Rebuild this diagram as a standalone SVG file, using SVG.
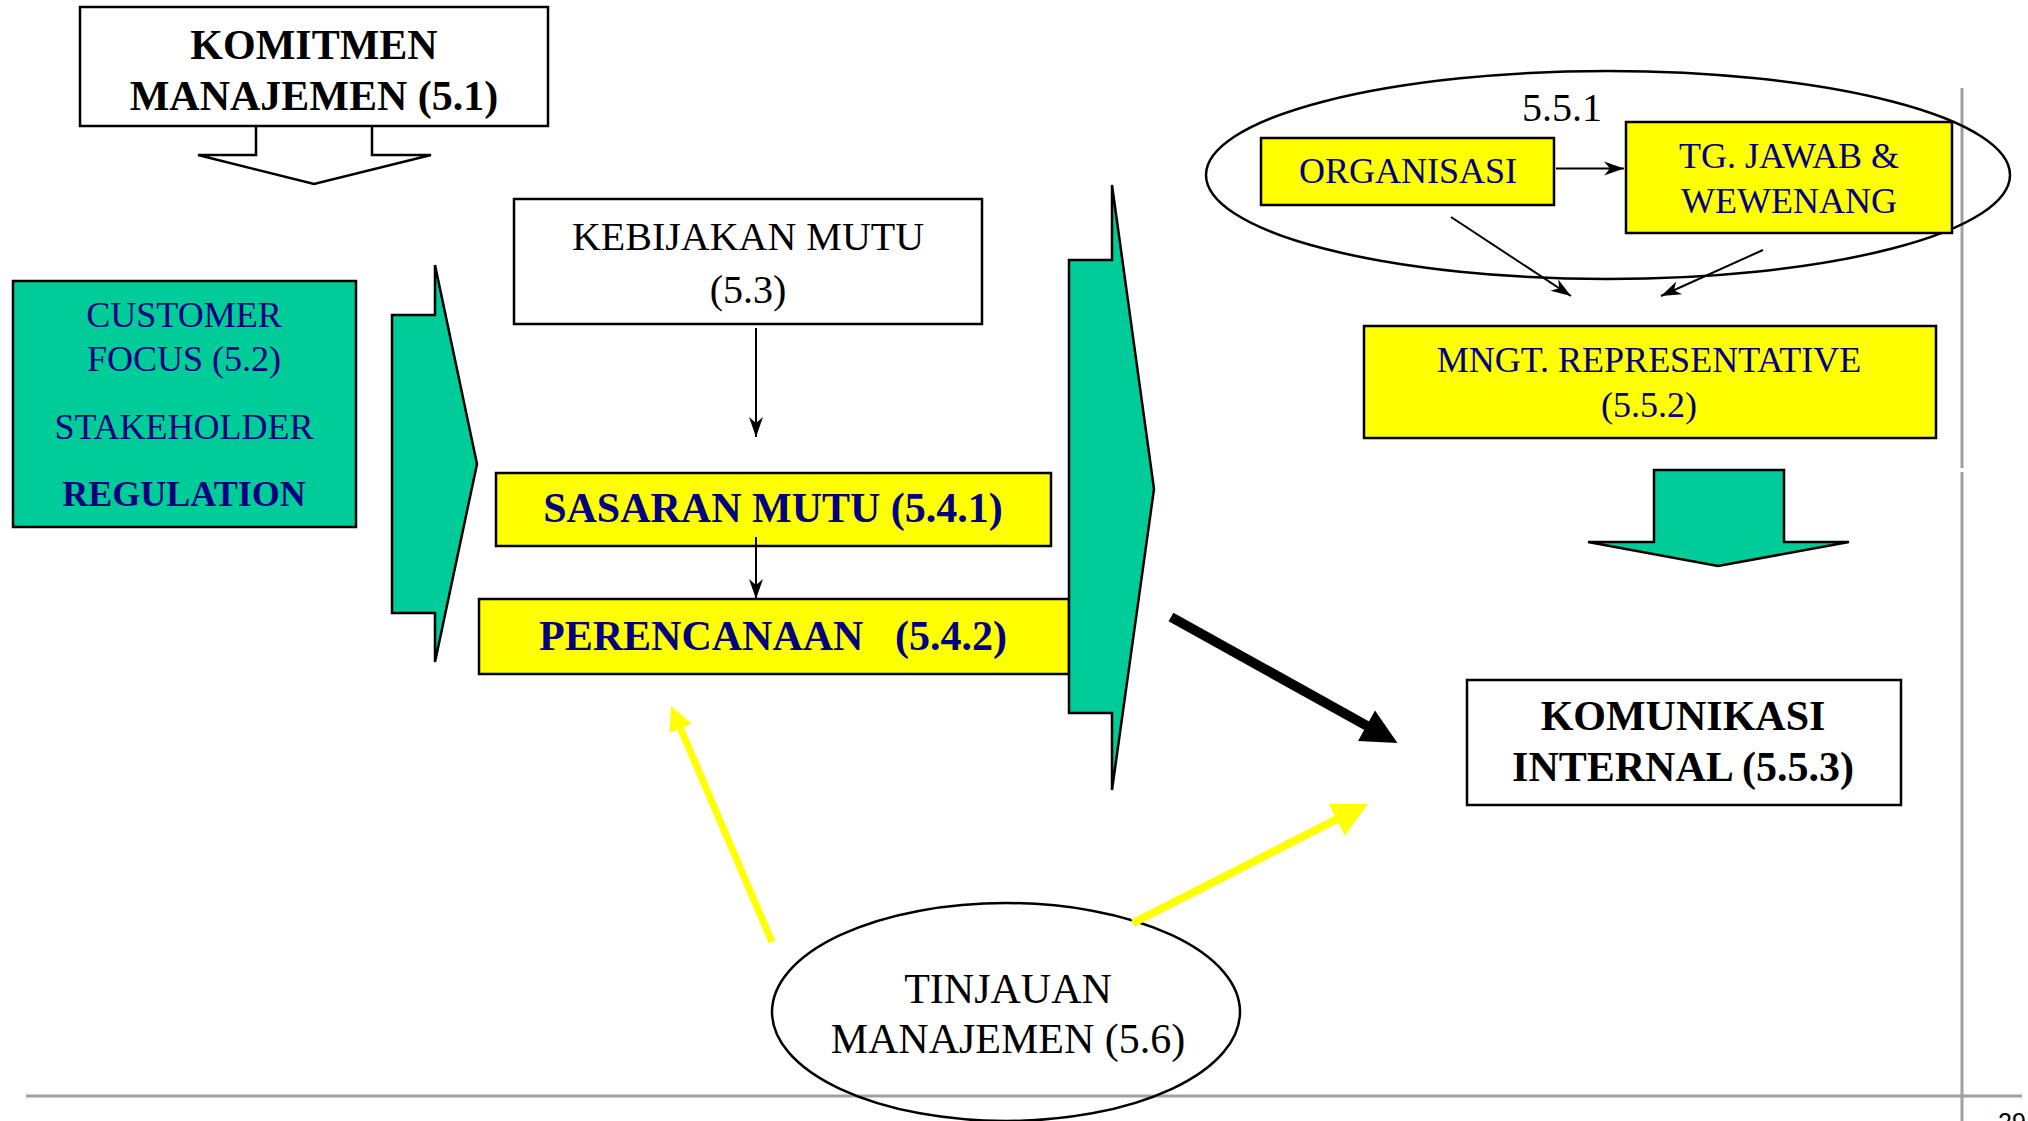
<svg xmlns="http://www.w3.org/2000/svg" width="2028" height="1121" viewBox="0 0 2028 1121">
  <style>
    .box { stroke: #000; stroke-width: 2.5; }
    .white { fill: #fff; }
    .yellow { fill: #ffff00; }
    .teal { fill: #00cc99; }
    .t { font-family: "Liberation Serif", "Times New Roman", serif; text-anchor: middle; }
    .blk { fill: #000; }
    .navy { fill: #000080; }
    .b { font-weight: bold; }
    .thin { stroke: #000; stroke-width: 2; fill: none; marker-end: url(#head); }
    .guide { stroke: #a0a0a0; stroke-width: 3; fill: none; }
  </style>
  <defs>
    <marker id="head" viewBox="-22 -8 24 16" refX="0" refY="0" markerWidth="24" markerHeight="16" markerUnits="userSpaceOnUse" orient="auto">
      <path d="M0,0 L-20,-7 L-14,0 L-20,7 Z" fill="#000"/>
    </marker>
  </defs>
  <rect width="2028" height="1121" fill="#fff"/>

  <!-- page frame rules and slide number -->
  <g id="frame">
    <line class="guide" x1="26" y1="1096" x2="2022" y2="1096"/>
    <line class="guide" x1="1962" y1="88" x2="1962" y2="468" stroke-width="2.5"/>
    <line class="guide" x1="1962" y1="472" x2="1962" y2="1121" stroke-width="2.5"/>
    <text x="2012" y="1131" font-family="Liberation Sans, Arial, sans-serif" font-size="25" text-anchor="middle" fill="#000">29</text>
  </g>

  <!-- 5.5.1 grouping -->
  <g id="group-551">
    <ellipse cx="1608" cy="175" rx="402" ry="104" fill="none" stroke="#000" stroke-width="2.5"/>
    <text class="t blk" x="1562" y="121" font-size="40">5.5.1</text>
  </g>

  <g id="komitmen">
    <path class="white box" d="M256,120 L256,155 L198,155 L314,184 L431,155 L372,155 L372,120"/>
    <rect class="white box" x="80" y="7" width="468" height="119"/>
    <text class="t blk b" x="314" y="59" font-size="42">KOMITMEN</text>
    <text class="t blk b" x="314" y="110" font-size="42">MANAJEMEN (5.1)</text>
  </g>

  <g id="customer-focus">
    <rect class="teal box" x="13" y="281" width="343" height="246"/>
    <text class="t navy" x="184" y="327" font-size="36">CUSTOMER</text>
    <text class="t navy" x="184" y="371" font-size="36">FOCUS (5.2)</text>
    <text class="t navy" x="184" y="439" font-size="36">STAKEHOLDER</text>
    <text class="t navy b" x="184" y="506" font-size="36">REGULATION</text>
  </g>

  <g id="input-chevron">
    <polygon class="teal box" points="392,315 435,315 435,265 477,464 435,662 435,613 392,613"/>
  </g>

  <g id="kebijakan-mutu">
    <rect class="white box" x="514" y="199" width="468" height="125"/>
    <text class="t blk" x="748" y="250" font-size="40">KEBIJAKAN MUTU</text>
    <text class="t blk" x="748" y="303" font-size="40">(5.3)</text>
  </g>

  <g id="sasaran-mutu">
    <rect class="yellow box" x="496" y="473" width="555" height="73"/>
    <text class="t navy b" x="773" y="522" font-size="42">SASARAN MUTU (5.4.1)</text>
  </g>

  <g id="perencanaan">
    <rect class="yellow box" x="479" y="599" width="590" height="75"/>
    <text class="t navy b" x="773" y="650" font-size="42" xml:space="preserve">PERENCANAAN   (5.4.2)</text>
  </g>

  <g id="output-chevron">
    <polygon class="teal box" points="1069,260 1112,260 1112,185 1154,489 1112,790 1112,713 1069,713"/>
  </g>

  <g id="organisasi">
    <rect class="yellow box" x="1261" y="138" width="293" height="67"/>
    <text class="t navy" x="1408" y="183" font-size="36">ORGANISASI</text>
  </g>

  <g id="tanggung-jawab">
    <rect class="yellow box" x="1626" y="122" width="326" height="111"/>
    <text class="t navy" x="1789" y="168" font-size="36">TG. JAWAB &amp;</text>
    <text class="t navy" x="1789" y="213" font-size="36">WEWENANG</text>
  </g>

  <g id="mngt-representative">
    <rect class="yellow box" x="1364" y="326" width="572" height="112"/>
    <text class="t navy" x="1649" y="372" font-size="36">MNGT. REPRESENTATIVE</text>
    <text class="t navy" x="1649" y="417" font-size="36">(5.5.2)</text>
  </g>

  <g id="mngt-down-arrow">
    <polygon class="teal box" points="1654,470 1784,470 1784,542 1849,542 1718,566 1588,542 1654,542"/>
  </g>

  <g id="komunikasi-internal">
    <rect class="white box" x="1467" y="680" width="434" height="125"/>
    <text class="t blk b" x="1683" y="730" font-size="42">KOMUNIKASI</text>
    <text class="t blk b" x="1683" y="781" font-size="42">INTERNAL (5.5.3)</text>
  </g>

  <g id="tinjauan-manajemen">
    <ellipse cx="1006" cy="1012" rx="234" ry="109" fill="none" stroke="#000" stroke-width="2.5"/>
    <text class="t blk" x="1008" y="1003" font-size="42">TINJAUAN</text>
    <text class="t blk" x="1008" y="1053" font-size="42">MANAJEMEN (5.6)</text>
  </g>

  <g id="connectors">
    <line class="thin" x1="756" y1="328" x2="756" y2="437"/>
    <line class="thin" x1="756" y1="537" x2="756" y2="599"/>
    <line class="thin" x1="1556" y1="168.5" x2="1624" y2="168.5"/>
    <line class="thin" x1="1451" y1="217" x2="1571" y2="296"/>
    <line class="thin" x1="1763" y1="250" x2="1661" y2="296"/>

    <!-- heavy black arrow towards internal communication -->
    <line x1="1171" y1="617" x2="1369" y2="727" stroke="#000" stroke-width="10"/>
    <polygon points="1397.5,743 1358,740.9 1375,710.5" fill="#000"/>

    <!-- review feedback arrows -->
    <line x1="1133" y1="923" x2="1339" y2="818" stroke="#ffff00" stroke-width="8"/>
    <polygon points="1368,804 1344.7,835.6 1328.7,803.8" fill="#ffff00"/>
    <line x1="772" y1="942" x2="679" y2="725" stroke="#ffff00" stroke-width="7"/>
    <polygon points="671,706 691.5,723.4 669.5,732.8" fill="#ffff00"/>
  </g>
</svg>
